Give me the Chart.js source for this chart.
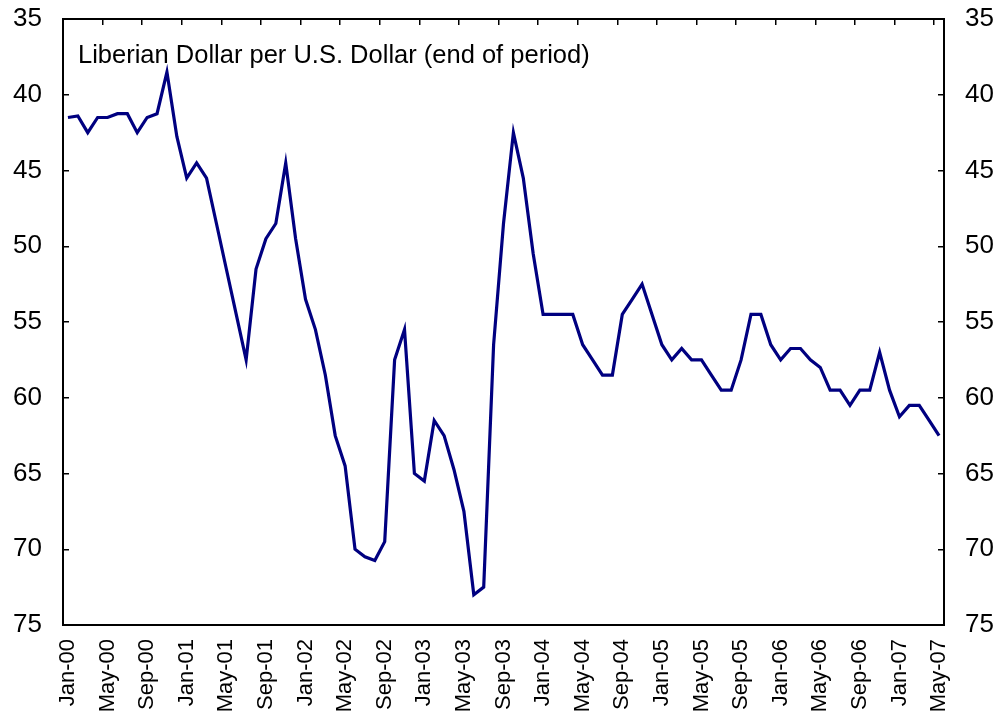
<!DOCTYPE html>
<html>
<head>
<meta charset="utf-8">
<script src="https://cdn.jsdelivr.net/npm/chart.js@4"></script>
<style>
  html, body { margin: 0; padding: 0; background: #fff; }
  #wrap { width: 1002px; height: 713px; position: relative; }
</style>
</head>
<body>
<div id="wrap"><canvas id="rateChart"></canvas></div>
<script>
// Chart data
const monthNames = ['Jan', 'Feb', 'Mar', 'Apr', 'May', 'Jun', 'Jul', 'Aug', 'Sep', 'Oct', 'Nov', 'Dec'];
const years = ['00', '01', '02', '03', '04', '05', '06', '07'];
const lastMonthCount = 5; // data stops at May-07

const rateValues = [
  41.5, 41.4, 42.5, 41.5, 41.5, 41.25, 41.25, 42.5, 41.5, 41.25, 38.5, 42.75,   // 2000
  45.5, 44.5, 45.5, 48.5, 51.5, 54.5, 57.5, 51.5, 49.5, 48.5, 44.5, 49.5,       // 2001
  53.5, 55.5, 58.5, 62.5, 64.5, 70, 70.5, 70.75, 69.5, 57.5, 55.5, 65,          // 2002
  65.5, 61.5, 62.5, 64.75, 67.5, 73, 72.5, 56.5, 48.5, 42.5, 45.5, 50.5,        // 2003
  54.5, 54.5, 54.5, 54.5, 56.5, 57.5, 58.5, 58.5, 54.5, 53.5, 52.5, 54.5,       // 2004
  56.5, 57.5, 56.75, 57.5, 57.5, 58.5, 59.5, 59.5, 57.5, 54.5, 54.5, 56.5,      // 2005
  57.5, 56.75, 56.75, 57.5, 58, 59.5, 59.5, 60.5, 59.5, 59.5, 57, 59.5,         // 2006
  61.25, 60.5, 60.5, 61.5, 62.5                                                 // 2007
];

const yMin = 35;
const yMax = 75;
const yStep = 5;
const labelEvery = 4;
const titleText = 'Liberian Dollar per U.S. Dollar (end of period)';

// build month labels like "Jan-00"
const monthLabels = [];
years.forEach((yr, yi) => {
  const count = yi === years.length - 1 ? lastMonthCount : 12;
  for (let m = 0; m < count; m++) {
    monthLabels.push(monthNames[m] + '-' + yr);
  }
});

const fontFamily = '"Liberation Sans", Arial, Helvetica, sans-serif';

// title sits inside the plot area
const insideTitle = {
  id: 'insideTitle',
  afterDraw(chart) {
    const ctx = chart.ctx;
    const area = chart.chartArea;
    ctx.save();
    ctx.font = '25.5px ' + fontFamily;
    ctx.fillStyle = '#000';
    ctx.textAlign = 'left';
    ctx.textBaseline = 'alphabetic';
    ctx.fillText(titleText, area.left + 15, area.top + 44);
    ctx.restore();
  }
};

const yAxis = (position) => ({
  type: 'linear',
  position: position,
  min: yMin,
  max: yMax,
  reverse: true,
  afterFit: (scale) => {
    scale.width = position === 'left' ? 63 : 58;
    scale.paddingTop = 0;
    scale.paddingBottom = 0;
  },
  ticks: {
    stepSize: yStep,
    padding: 27,
    color: '#000',
    font: { family: fontFamily, size: 26 }
  },
  grid: {
    drawOnChartArea: false,
    drawTicks: true,
    tickLength: -6,
    color: '#000',
    lineWidth: 1.5
  },
  border: { display: true, color: '#000', width: 2 }
});

const rateConfig = {
  type: 'line',
  data: {
    labels: monthLabels,
    datasets: [{
      label: titleText,
      data: rateValues,
      borderColor: '#000080',
      borderWidth: 3.2,
      pointRadius: 0,
      tension: 0,
      fill: false,
      xAxisID: 'x',
      yAxisID: 'y'
    }]
  },
  options: {
    responsive: true,
    maintainAspectRatio: false,
    animation: false,
    layout: { padding: 0 },
    scales: {
      x: {
        type: 'category',
        position: 'bottom',
        offset: true,
        afterFit: (scale) => { scale.height = 88; },
        ticks: {
          autoSkip: false,
          minRotation: 90,
          maxRotation: 90,
          padding: 14,
          color: '#000',
          font: { family: fontFamily, size: 22 },
          callback: (value, i) => (i % labelEvery === 0 ? monthLabels[i] : '')
        },
        grid: { display: false, drawTicks: false },
        border: { display: true, color: '#000', width: 2 }
      },
      x2: {
        type: 'category',
        position: 'top',
        offset: true,
        afterFit: (scale) => { scale.height = 19; },
        ticks: { display: false },
        grid: {
          offset: true,
          drawOnChartArea: false,
          drawTicks: true,
          tickLength: -6,
          lineWidth: 1.5,
          color: (ctx) => (ctx.index > 0 && ctx.index % labelEvery === 0 ? '#000' : 'rgba(0,0,0,0)')
        },
        border: { display: true, color: '#000', width: 2 }
      },
      y: yAxis('left'),
      y2: yAxis('right')
    },
    plugins: {
      legend: { display: false },
      tooltip: { enabled: false }
    }
  },
  plugins: [insideTitle]
};

const rateChart = new Chart(
  document.getElementById('rateChart'),
  rateConfig
);
</script>
</body>
</html>
